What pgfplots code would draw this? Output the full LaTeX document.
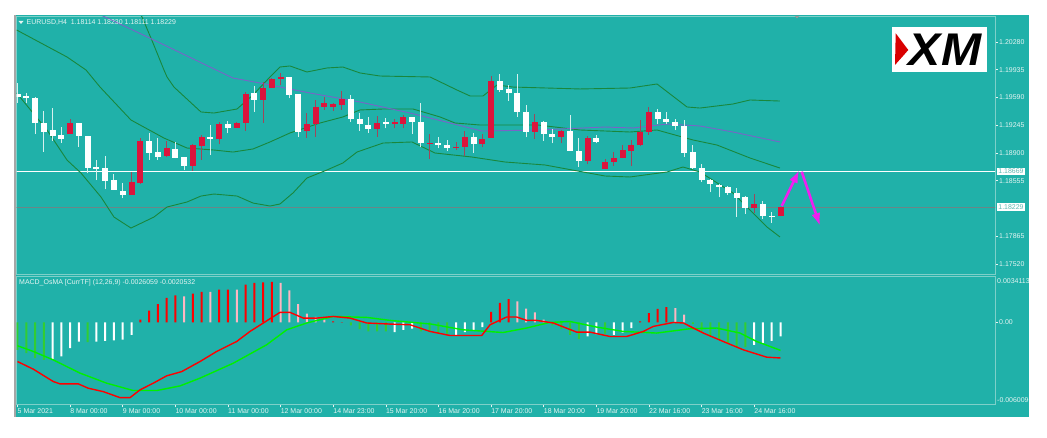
\documentclass[border=0pt]{standalone}
\usepackage{fontspec}
\setmainfont{Liberation Sans}
\usepackage{pgfplots}
\usepackage{pgfplotstable}
\pgfplotsset{compat=1.18}
\usetikzlibrary{arrows.meta}
\definecolor{bg}{RGB}{32,177,169}
\definecolor{frame}{RGB}{125,208,201}
\definecolor{lbl}{RGB}{228,244,242}
\definecolor{crim}{RGB}{220,20,60}
\definecolor{wickr}{RGB}{160,70,90}
\definecolor{wickw}{RGB}{215,240,238}
\definecolor{band}{RGB}{25,135,60}
\definecolor{ma}{RGB}{120,100,200}
\definecolor{pgray}{RGB}{105,135,135}
\definecolor{mag}{RGB}{240,30,240}
\definecolor{hgreen}{RGB}{50,205,50}
\definecolor{hpink}{RGB}{255,182,193}
\definecolor{lgreen}{RGB}{0,240,0}
\definecolor{boxtxt}{RGB}{95,185,178}
\newcommand\tf{\fontsize{7}{8}\selectfont}
\pgfplotsset{nomark/.style={only marks, mark=*, mark size=0pt, mark options={draw opacity=0, fill opacity=0}}}

% bearish (white) candles
\pgfplotstableread{
i O H L C
0 1.19640 1.19770 1.19522 1.19602
1 1.19609 1.19642 1.19518 1.19590
2 1.19588 1.19600 1.19136 1.19269
3 1.19269 1.19426 1.18916 1.19165
4 1.19182 1.19463 1.19049 1.19111
5 1.19120 1.19227 1.19028 1.19074
7 1.19277 1.19277 1.18978 1.19111
8 1.19115 1.19115 1.18648 1.18710
9 1.18722 1.18813 1.18564 1.18697
10 1.18710 1.18866 1.18449 1.18556
11 1.18564 1.18639 1.18440 1.18440
12 1.18427 1.18523 1.18337 1.18378
15 1.19053 1.19152 1.18813 1.18904
16 1.18912 1.19083 1.18813 1.18854
18 1.18953 1.19040 1.18834 1.18842
19 1.18847 1.18847 1.18689 1.18742
22 1.19099 1.19248 1.18875 1.19078
24 1.19261 1.19302 1.19145 1.19211
27 1.19642 1.19737 1.19413 1.19559
31 1.19841 1.19841 1.19580 1.19625
32 1.19630 1.19630 1.19103 1.19165
38 1.19571 1.19621 1.19289 1.19323
39 1.19323 1.19401 1.19177 1.19257
40 1.19248 1.19344 1.19152 1.19195
42 1.19277 1.19339 1.19207 1.19273
45 1.19344 1.19344 1.19136 1.19282
46 1.19282 1.19518 1.18971 1.19021
48 1.19021 1.19095 1.18958 1.18999
49 1.18999 1.19062 1.18925 1.18958
52 1.19095 1.19145 1.18904 1.19012
55 1.19795 1.19882 1.19662 1.19683
56 1.19692 1.19745 1.19550 1.19642
57 1.19642 1.19882 1.19351 1.19413
58 1.19413 1.19497 1.19095 1.19165
60 1.19282 1.19298 1.19053 1.19136
61 1.19136 1.19198 1.19021 1.19095
63 1.19173 1.19372 1.18929 1.18929
64 1.18929 1.19083 1.18730 1.18804
66 1.19090 1.19124 1.19021 1.19037
73 1.19413 1.19443 1.19257 1.19323
74 1.19326 1.19406 1.19257 1.19289
75 1.19289 1.19323 1.19186 1.19239
76 1.19239 1.19310 1.18854 1.18904
77 1.18912 1.18999 1.18701 1.18717
78 1.18717 1.18760 1.18543 1.18564
79 1.18564 1.18573 1.18411 1.18511
80 1.18498 1.18511 1.18349 1.18474
81 1.18474 1.18490 1.18378 1.18399
82 1.18399 1.18469 1.18108 1.18344
83 1.18349 1.18365 1.18142 1.18220
85 1.18266 1.18303 1.18079 1.18120
86 1.18120 1.18163 1.18033 1.18114
}\downtable

% bullish (red) candles
\pgfplotstableread{
i O H L C
6 1.19132 1.19323 1.19132 1.19277
13 1.18378 1.18664 1.18378 1.18539
14 1.18531 1.19083 1.18515 1.19053
17 1.18863 1.19049 1.18847 1.18966
20 1.18742 1.19012 1.18680 1.18996
21 1.18991 1.19124 1.18813 1.19099
23 1.19074 1.19289 1.19008 1.19261
25 1.19211 1.19289 1.19211 1.19269
26 1.19269 1.19655 1.19177 1.19630
28 1.19559 1.19786 1.19277 1.19712
29 1.19712 1.19829 1.19712 1.19816
30 1.19816 1.19898 1.19742 1.19841
33 1.19173 1.19401 1.19090 1.19257
34 1.19261 1.19559 1.19103 1.19476
35 1.19476 1.19600 1.19435 1.19525
36 1.19476 1.19518 1.19426 1.19505
37 1.19497 1.19671 1.19435 1.19575
41 1.19198 1.19364 1.19103 1.19277
43 1.19273 1.19319 1.19207 1.19277
44 1.19264 1.19372 1.19207 1.19344
47 1.19021 1.19136 1.18822 1.19025
50 1.18971 1.19037 1.18937 1.18975
51 1.18971 1.19173 1.18863 1.19095
53 1.19012 1.19136 1.18971 1.19070
54 1.19090 1.19861 1.19090 1.19795
59 1.19157 1.19385 1.19074 1.19289
62 1.19095 1.19186 1.19021 1.19173
65 1.18804 1.19111 1.18760 1.19090
67 1.18701 1.18825 1.18701 1.18792
68 1.18788 1.18916 1.18742 1.18842
69 1.18834 1.18999 1.18834 1.18934
70 1.18925 1.19062 1.18742 1.18996
71 1.18999 1.19310 1.18991 1.19165
72 1.19165 1.19476 1.19124 1.19413
84 1.18220 1.18390 1.18158 1.18266
87 1.18114 1.18230 1.18111 1.18229
}\uptable

\begin{document}
\begin{tikzpicture}[x=1bp,y=1bp]
\useasboundingbox (0,0) rectangle (1047,438);
\fill[white] (0,0) rectangle (1047,438);
\fill[bg] (14.3,21) rectangle (1029,422.5);
\draw[gray!70, line width=1.2bp] (14.9,21) -- (14.9,422.5);

% ---------------- main price panel ----------------
\begin{axis}[
  at={(16.5bp,164bp)}, anchor=south west, scale only axis,
  width=978.5bp, height=257.5bp,
  xmin=-0.114, xmax=111.46, ymin=1.17396, ymax=1.20597,
  axis line style={frame, line width=0.9bp},
  xtick=\empty,
  ytick={1.17520,1.17865,1.18555,1.18900,1.19245,1.19590,1.19935,1.20280},
  yticklabels={1.17520,1.17865,1.18555,1.18900,1.19245,1.19590,1.19935,1.20280},
  scaled y ticks=false,
  ytick pos=right, yticklabel pos=right,
  tick align=outside, major tick length=3bp,
  tick style={lbl, line width=0.6bp},
  yticklabel style={font=\tf, text=lbl, inner sep=1bp},
]
\addplot[white, line width=0.8bp] coordinates {(-1,1.18669) (112,1.18669)};
\addplot[pgray, line width=0.9bp] coordinates {(-1,1.18229) (112,1.18229)};

% Bollinger bands (20)
\addplot[band, line width=0.9bp] coordinates {(12.8,1.20802) (14.2,1.20591) (15.45,1.20268) (16.7,1.19932) (17.05,1.19845) (17.84,1.19720) (20.92,1.19410) (22.4,1.19397) (25.03,1.19447) (26.85,1.19621) (28.79,1.19845) (29.93,1.19969) (31.07,1.19982) (33.0,1.19907) (35.29,1.19957) (37.1,1.19969) (39.05,1.19895) (41.33,1.19857) (47.04,1.19845) (50.11,1.19683) (51.6,1.19609) (53.08,1.19609) (54.67,1.19745) (56.5,1.19720) (64.14,1.19696) (69.84,1.19708) (72.92,1.19758) (76.34,1.19472) (77.82,1.19459) (81.58,1.19509) (83.52,1.19559) (86.94,1.19546)};
\addplot[band, line width=0.9bp] coordinates {(-0.1,1.20429) (5.64,1.20094) (7.81,1.19932) (9.41,1.19720) (12.94,1.19310) (16.7,1.19086) (19.33,1.18962) (22.4,1.18937) (24.57,1.18912) (26.85,1.18950) (28.79,1.19037) (31.07,1.19149) (34.5,1.19273) (37.1,1.19348) (39.05,1.19435) (41.68,1.19447) (45.1,1.19447) (48.18,1.19348) (49.89,1.19273) (52.74,1.19248) (59.35,1.19248) (64.14,1.19186) (69.84,1.19161) (72.92,1.19186) (77.02,1.19062) (79.76,1.18999) (83.52,1.18838) (86.94,1.18713)};
\addplot[band, line width=0.9bp] coordinates {(-0.1,1.19646) (3.36,1.19186) (5.64,1.18813) (7.24,1.18651) (9.52,1.18353) (11.0,1.18104) (12.94,1.17967) (15.56,1.18104) (17.05,1.18229) (19.33,1.18291) (20.92,1.18365) (22.4,1.18390) (25.03,1.18365) (26.85,1.18278) (28.79,1.18241) (29.93,1.18266) (31.41,1.18403) (33.0,1.18589) (35.29,1.18689) (37.1,1.18776) (38.71,1.18912) (41.68,1.19024) (44.98,1.19037) (47.6,1.18900) (51.82,1.18850) (55.59,1.18788) (60.15,1.18751) (63.23,1.18689) (66.99,1.18614) (69.84,1.18602) (74.06,1.18664) (75.88,1.18726) (77.82,1.18664) (81.58,1.18403) (85.46,1.17980) (86.94,1.17856)};
% moving average
\addplot[ma, line width=0.9bp] coordinates {(0,1.21101) (9.98,1.20591) (16.25,1.20268) (21.95,1.19969) (24.57,1.19832) (27.65,1.19770) (33.35,1.19646) (39.05,1.19534) (44.75,1.19397) (47.95,1.19310) (52.96,1.19173) (59.35,1.19186) (66.99,1.19223) (70.18,1.19211) (74.06,1.19260) (77.82,1.19236) (81.58,1.19161) (86.94,1.19037)};

% wicks
\addplot[nomark, error bars/.cd, y dir=plus, y explicit, error mark=none,
  error bar style={line width=1bp, color=wickw}]
  table[x=i, y=L, y error plus expr={\thisrow{H}-\thisrow{L}}] \downtable;
\addplot[nomark, error bars/.cd, y dir=plus, y explicit, error mark=none,
  error bar style={line width=1bp, color=wickr}]
  table[x=i, y=L, y error plus expr={\thisrow{H}-\thisrow{L}}] \uptable;
% bodies
\addplot[nomark, error bars/.cd, y dir=both, y explicit, error mark=none,
  error bar style={line width=6bp, color=white}]
  table[x=i, y expr={(\thisrow{O}+\thisrow{C})/2}, y error expr={max(abs(\thisrow{C}-\thisrow{O})/2,0.00005)}] \downtable;
\addplot[nomark, error bars/.cd, y dir=both, y explicit, error mark=none,
  error bar style={line width=6bp, color=crim}]
  table[x=i, y expr={(\thisrow{O}+\thisrow{C})/2}, y error expr={max(abs(\thisrow{C}-\thisrow{O})/2,0.00005)}] \uptable;

% forecast arrows
\addplot[mag, line width=2.6bp, -{Latex[length=13bp,width=9bp]}] coordinates {(87.14,1.18241) (89.14,1.18689)};
\addplot[mag, line width=2.6bp, -{Latex[length=13bp,width=9bp]}] coordinates {(89.42,1.18667) (91.51,1.17992)};

\coordinate (pa) at (111.46,1.18669);
\coordinate (pb) at (111.46,1.18229);
\end{axis}

\node[fill=white, text=boxtxt, font=\tf, inner sep=1.4bp, anchor=west] at ([xshift=1.8bp]pa) {1.18669};
\node[fill=white, text=boxtxt, font=\tf, inner sep=1.4bp, anchor=west] at ([xshift=1.8bp]pb) {1.18229};

% ---------------- MACD panel ----------------
\begin{axis}[
  at={(16.5bp,33.7bp)}, anchor=south west, scale only axis,
  width=978.5bp, height=128.3bp,
  xmin=-0.114, xmax=111.46, ymin=-0.0060096, ymax=0.0034113,
  axis line style={frame, line width=0.9bp},
  xtick={0,6,...,84},
  xticklabels={5 Mar 2021, 8 Mar 00:00, 9 Mar 00:00, 10 Mar 00:00, 11 Mar 00:00, 12 Mar 00:00, 14 Mar 23:00, 15 Mar 20:00, 16 Mar 20:00, 17 Mar 20:00, 18 Mar 20:00, 19 Mar 20:00, 22 Mar 16:00, 23 Mar 16:00, 24 Mar 16:00},
  xtick pos=bottom,
  ytick={0}, yticklabels={0.00}, scaled y ticks=false,
  ytick pos=right, yticklabel pos=right,
  tick align=outside, major tick length=3bp,
  tick style={lbl, line width=0.6bp},
  yticklabel style={font=\tf, text=lbl, inner sep=1bp},
  xticklabel style={font=\tf, text=lbl, anchor=north west, inner sep=1bp, xshift=-1bp},
]
\addplot[ybar, bar width=2bp, bar shift=0pt, fill=hgreen, draw=none] coordinates {(0,-0.00201) (1,-0.00225) (2,-0.00262) (3,-0.00275) (8,-0.00144) (38,-0.00022) (39,-0.00049) (40,-0.00066) (41,-0.00066) (42,-0.00066) (46,-0.00066) (47,-0.00071) (48,-0.00078) (49,-0.00083) (61,-0.00022) (62,-0.00049) (63,-0.00091) (64,-0.00122) (67,-0.00083) (77,-0.00010) (78,-0.00066) (79,-0.00103) (80,-0.00127) (81,-0.00152) (82,-0.00181) (83,-0.00181)};
\addplot[ybar, bar width=2bp, bar shift=0pt, fill=white, draw=none] coordinates {(4,-0.00269) (5,-0.00250) (6,-0.00188) (7,-0.00140) (9,-0.00140) (10,-0.00135) (11,-0.00132) (12,-0.00127) (13,-0.00091) (43,-0.00071) (44,-0.00054) (45,-0.00046) (50,-0.00091) (51,-0.00071) (52,-0.00059) (53,-0.00034) (65,-0.00103) (66,-0.00085) (68,-0.00091) (69,-0.00074) (70,-0.00041) (84,-0.00164) (85,-0.00152) (86,-0.00135) (87,-0.00103)};
\addplot[ybar, bar width=2bp, bar shift=0pt, fill=red, draw=none] coordinates {(14,0.00020) (15,0.00086) (16,0.00135) (17,0.00180) (18,0.00199) (20,0.00211) (21,0.00224) (23,0.00241) (24,0.00241) (26,0.00277) (27,0.00290) (28,0.00294) (29,0.00297) (36,0.00007) (37,0.00003) (54,0.00077) (55,0.00143) (56,0.00172) (71,0.00007) (72,0.00069) (73,0.00099) (74,0.00113)};
\addplot[ybar, bar width=2bp, bar shift=0pt, fill=hpink, draw=none] coordinates {(19,0.00191) (22,0.00224) (25,0.00241) (30,0.00290) (31,0.00236) (32,0.00135) (33,0.00064) (34,0.00040) (35,0.00020) (57,0.00155) (58,0.00101) (59,0.00074) (60,0.00020) (75,0.00106) (76,0.00057)};

\addplot[lgreen, line width=1.4bp] coordinates {(0,-0.00171) (1.80,-0.00213) (4.08,-0.00275) (7.13,-0.00372) (10.17,-0.00446) (13.2,-0.00500) (15.87,-0.00500) (18.53,-0.00466) (20.81,-0.00409) (24.61,-0.00299) (28.41,-0.00164) (30.7,-0.00054) (32.98,-0.00004) (36.01,0.00044) (39.82,0.00037) (42.5,0.00015) (47.17,-0.00012) (50.8,-0.00054) (55.36,-0.00074) (58.04,-0.00041) (60.67,0) (63.0,0.00007) (66.04,-0.00034) (69.08,-0.00066) (72.88,-0.00078) (76.68,-0.00046) (79.73,-0.00041) (82.38,-0.00078) (84.29,-0.00140) (87,-0.00205)};
\addplot[red, line width=1.4bp] coordinates {(0,-0.00287) (1.80,-0.00343) (4.08,-0.00434) (4.85,-0.00451) (6.93,-0.00451) (8.07,-0.00483) (9.78,-0.00508) (11.69,-0.00552) (12.83,-0.00552) (13.97,-0.00495) (15.48,-0.00446) (17.01,-0.00392) (18.72,-0.00361) (20.81,-0.00287) (22.71,-0.00213) (24.99,-0.00140) (26.51,-0.00066) (28.03,-0.00004) (29.93,0.00074) (31.07,0.00074) (32.59,0.00032) (34.12,0.00032) (36.01,0.00044) (37.91,0.00032) (39.82,-0.00004) (42.5,-0.00012) (44.76,-0.00017) (47.04,-0.00066) (49.32,-0.00096) (52.93,-0.00096) (53.88,-0.00017) (55.78,0.00040) (56.92,0.00040) (58.06,0.00015) (59.2,0.00015) (61.09,-0.00004) (63.76,-0.00071) (65.27,-0.00071) (67.55,-0.00103) (69.46,-0.00103) (71.36,-0.00066) (72.5,-0.00029) (74.78,0) (75.92,-0.00004) (78.2,-0.00078) (80.48,-0.00140) (82.76,-0.00201) (85.43,-0.00255) (87,-0.00261)};

\coordinate (ltop) at (rel axis cs:1,1);
\coordinate (lbot) at (rel axis cs:1,0);
\end{axis}

\node[font=\tf, text=lbl, anchor=north west, inner sep=0pt] at ([xshift=2bp,yshift=-2bp]ltop) {0.0034113};
\node[font=\tf, text=lbl, anchor=south west, inner sep=0pt] at ([xshift=2bp,yshift=1.5bp]lbot) {-0.0060096};

% titles
\fill[lbl] (18.5,417) -- (23.5,417) -- (21,414);
\node[font=\tf, text=lbl, anchor=west, inner sep=0pt] at (26.5,415.5) {EURUSD,H4\ \ 1.18114 1.18230 1.18111 1.18229};
\node[font=\tf, text=lbl, anchor=west, inner sep=0pt] at (19,155.7) {MACD\_OsMA [CurrTF] (12,26,9) -0.0026059 -0.0020532};

% top shift marker
\fill[gray!80] (794.5,422) -- (799.5,422) -- (797,419.5);

% XM logo
\fill[white] (892,366) rectangle (987,411);
\fill[red!85!black] (895.7,404.7) -- (908.3,388) -- (895,373) -- cycle;
\node[font=\fontsize{46}{46}\selectfont\bfseries\itshape, text=black, inner sep=0pt, xscale=1.05] at (945,388.5) {XM};

% clip beyond the chart window
\fill[white] (1029,0) rectangle (1047,438);
\end{tikzpicture}
\end{document}
